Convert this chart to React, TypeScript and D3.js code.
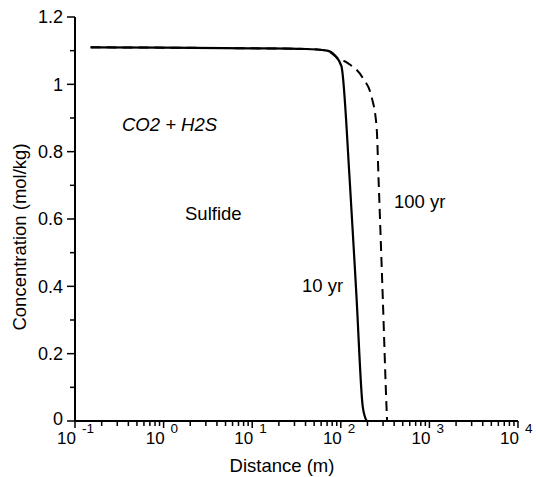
import React from "react";
import * as d3 from "d3";

const W = 536;
const H = 477;

// 10 yr profile: distance (m), concentration (mol/kg)
const yr10X = [0.15, 1, 10, 40, 70, 85, 101.6, 126, 150, 177, 196];
const yr10Y = [1.11, 1.109, 1.107, 1.105, 1.1, 1.087, 1.054, 0.716, 0.374, 0.042, 0];

// 100 yr profile
const yr100X = [0.15, 1, 10, 40, 70, 92, 120, 177, 223, 254, 267, 297, 329, 333];
const yr100Y = [1.11, 1.109, 1.107, 1.105, 1.1, 1.078, 1.063, 1.019, 0.962, 0.87, 0.716, 0.374, 0.033, 0];

const xExponents = [-1, 0, 1, 2, 3, 4];
const yMajor = [0, 0.2, 0.4, 0.6, 0.8, 1, 1.2];
const yMajorLabels = ["0", "0.2", "0.4", "0.6", "0.8", "1", "1.2"];
const yMinor = [0.1, 0.3, 0.5, 0.7, 0.9, 1.1];
const minorMult = [2, 3, 4, 5, 6, 7, 8, 9];

const FONT = "'Liberation Sans', Arial, Helvetica, sans-serif";

export default function App() {
  const x = d3.scaleLog().domain([0.1, 1e4]).range([75, 518]);
  const y = d3.scaleLinear().domain([0, 1.2]).range([421, 17]);

  const line = d3
    .line<[number, number]>()
    .x((d) => x(d[0]))
    .y((d) => y(d[1]))
    .curve(d3.curveMonotoneX);

  const d10 = line(yr10X.map((v, i) => [v, yr10Y[i]]) as [number, number][]) || "";
  const d100 = line(yr100X.map((v, i) => [v, yr100Y[i]]) as [number, number][]) || "";

  const minors: number[] = [];
  xExponents.slice(0, -1).forEach((e) => {
    minorMult.forEach((m) => minors.push(m * Math.pow(10, e)));
  });

  const x0 = x(0.1);
  const y0 = y(0);

  return (
    <svg
      width={W}
      height={H}
      style={{ position: "absolute", left: 0, top: 0, background: "#fff" }}
      fontFamily={FONT}
    >
      <rect width={W} height={H} fill="#fff" />
      {/* axes lines */}
      <line x1={x0} x2={x0} y1={y(1.2)} y2={y0 + 1} stroke="#000" strokeWidth={2} />
      <line x1={x0 - 1} x2={x(1e4)} y1={y0} y2={y0} stroke="#000" strokeWidth={2} />

      {/* y ticks */}
      {yMajor.map((v, i) => (
        <g key={"ym" + i}>
          <line x1={x0 - 8} x2={x0} y1={y(v)} y2={y(v)} stroke="#000" strokeWidth={1.5} />
          <text x={x0 - 12} y={y(v) - (v === 0 ? 2 : 0)} dy="0.35em" textAnchor="end" fontSize={18}>
            {yMajorLabels[i]}
          </text>
        </g>
      ))}
      {yMinor.map((v, i) => (
        <line key={"yn" + i} x1={x0 - 5} x2={x0} y1={y(v)} y2={y(v)} stroke="#000" strokeWidth={1.5} />
      ))}

      {/* x ticks */}
      {xExponents.map((e) => {
        const px = x(Math.pow(10, e));
        return (
          <g key={"xm" + e}>
            <line x1={px} x2={px} y1={y0} y2={y0 + 7} stroke="#000" strokeWidth={1.5} />
            <text x={px + 1} y={444} textAnchor="end" fontSize={17}>
              10
            </text>
            <text x={px + 7} y={433} textAnchor="start" fontSize={13.5}>
              {e < 0 ? "-" + Math.abs(e) : String(e)}
            </text>
          </g>
        );
      })}
      {minors.map((v, i) => (
        <line key={"xn" + i} x1={x(v)} x2={x(v)} y1={y0} y2={y0 + 5} stroke="#000" strokeWidth={1.5} />
      ))}

      {/* axis titles */}
      <text x={282} y={472} textAnchor="middle" fontSize={18.5}>
        Distance (m)
      </text>
      <text
        transform="translate(26,237) rotate(-90)"
        textAnchor="middle"
        fontSize={18.5}
      >
        Concentration (mol/kg)
      </text>

      {/* curves */}
      <path d={d100} fill="none" stroke="#000" strokeWidth={2} strokeDasharray="10,6" />
      <path d={d10} fill="none" stroke="#000" strokeWidth={2.2} />

      {/* annotations */}
      <text x={122} y={131} fontSize={18.5} fontStyle="italic">
        CO2 + H2S
      </text>
      <text x={185} y={220} fontSize={18.5}>
        Sulfide
      </text>
      <text x={394} y={208} fontSize={18.5}>
        100 yr
      </text>
      <text x={302} y={292} fontSize={18.5}>
        10 yr
      </text>
    </svg>
  );
}
